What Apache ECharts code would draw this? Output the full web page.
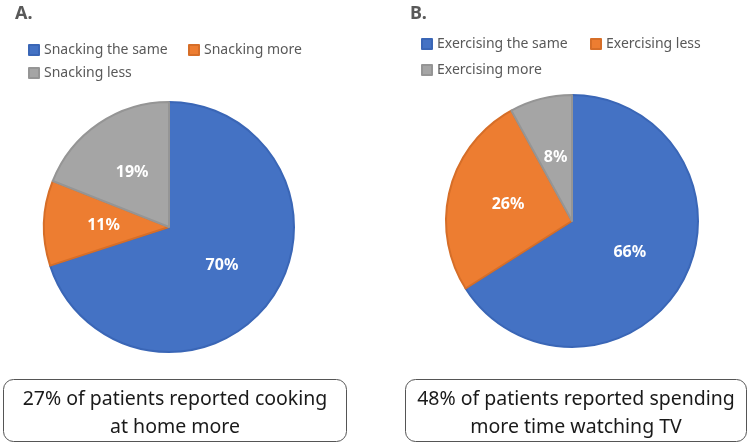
<!DOCTYPE html>
<html>
<head>
<meta charset="utf-8">
<script src="https://cdn.jsdelivr.net/npm/echarts@6/dist/echarts.min.js"></script>
<style>
  html, body { margin: 0; padding: 0; background: #fff; }
  #main { width: 750px; height: 444px; }
</style>
</head>
<body>
<div id="main"></div>
<script>
// data for the two pies
var snackNames = ['Snacking the same', 'Snacking more', 'Snacking less'];
var snackValues = [70, 11, 19];
var exerciseNames = ['Exercising the same', 'Exercising less', 'Exercising more'];
var exerciseValues = [66, 26, 8];
var boxTexts = ['27% of patients reported cooking\nat home more',
                '48% of patients reported spending\nmore time watching TV'];

// office-like colours
var fills = ['#4472C4', '#ED7D31', '#A5A5A5'];
var borders = ['#3A66B6', '#D66E28', '#959595'];

function toItems(names, values) {
    return names.map(function (n, i) {
        return {
            name: n,
            value: values[i],
            itemStyle: { color: fills[i], borderColor: borders[i], borderWidth: 2 }
        };
    });
}

var myChart = echarts.init(document.getElementById('main'));

var pieLabel = {
    position: 'inside',
    formatter: '{c}%',
    color: '#fff',
    fontFamily: 'Noto Sans',
    fontWeight: 'bold',
    fontSize: 16
};

var titleStyle = { fontFamily: 'Noto Sans', fontSize: 18, fontWeight: 'bold', color: '#595959' };
var legendText = { fontFamily: 'Noto Sans', fontSize: 14, color: '#595959', lineHeight: 16 };

var option = {
    animation: false,
    title: [
        { text: 'A.', left: 15, top: 5, padding: 0, textStyle: titleStyle },
        { text: 'B.', left: 410, top: 5, padding: 0, textStyle: titleStyle }
    ],
    legend: [
        {
            data: snackNames,
            left: 28, top: 42, width: 320, padding: 0,
            itemWidth: 10, itemHeight: 10, itemGap: 7,
            icon: 'rect',
            textStyle: Object.assign({ width: 137 }, legendText)
        },
        {
            data: exerciseNames,
            left: 421, top: 36, width: 330, padding: 0,
            itemWidth: 10, itemHeight: 10, itemGap: 10,
            icon: 'rect',
            textStyle: Object.assign({ width: 143 }, legendText)
        }
    ],
    series: [
        {
            name: 'A',
            type: 'pie',
            center: [169, 227],
            radius: 125,
            startAngle: 90,
            clockwise: true,
            label: pieLabel,
            labelLine: { show: false },
            data: toItems(snackNames, snackValues)
        },
        {
            name: 'B',
            type: 'pie',
            center: [572, 221],
            radius: 126,
            startAngle: 90,
            clockwise: true,
            label: pieLabel,
            labelLine: { show: false },
            data: toItems(exerciseNames, exerciseValues)
        }
    ],
    graphic: [
        { type: 'rect', shape: { x: 3.5, y: 379.5, width: 343, height: 62, r: 10 }, style: { fill: '#fff', stroke: '#555', lineWidth: 1 } },
        { type: 'text', x: 175, y: 413, style: { text: boxTexts[0], align: 'center', verticalAlign: 'middle', font: '19.5px "Noto Sans"', lineHeight: 28, fill: '#1a1a1a' } },
        { type: 'rect', shape: { x: 405.5, y: 379.5, width: 341, height: 62, r: 10 }, style: { fill: '#fff', stroke: '#555', lineWidth: 1 } },
        { type: 'text', x: 576, y: 413, style: { text: boxTexts[1], align: 'center', verticalAlign: 'middle', font: '19.5px "Noto Sans"', lineHeight: 28, fill: '#1a1a1a' } }
    ]
};
myChart.setOption(option);
</script>
</body>
</html>
